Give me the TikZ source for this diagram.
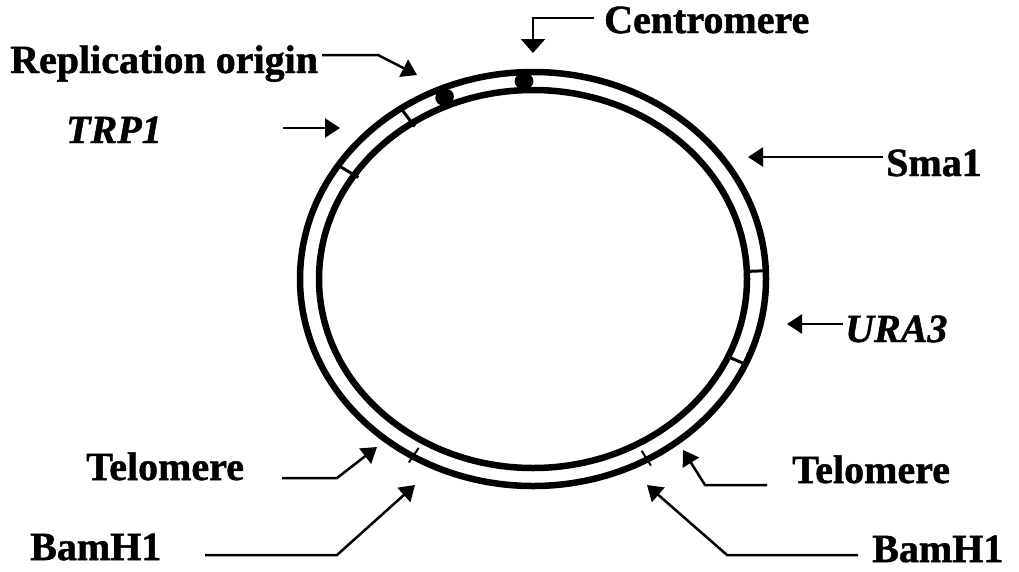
\documentclass[tikz,border=0pt]{standalone}
\usepackage{fontspec}
\setmainfont{Liberation Serif}[FakeBold=1.2]
\usetikzlibrary{arrows.meta,calc}
\begin{document}
\begin{tikzpicture}[x=1pt,y=-1pt,
  ring/.style={line width=6.5pt},
  tickmark/.style={line width=3pt},
  thintick/.style={line width=2pt},
  blob/.style={line width=15pt,line cap=round},
  arr/.style={line width=2.5pt,-{Triangle[length=15pt,width=19pt]}},
  arrc/.style={line width=2.5pt,-{Triangle[length=14pt,width=24pt]}},
  lab/.style={font=\fontsize{40}{42}\selectfont\bfseries,inner sep=0pt,anchor=base west},
  labi/.style={font=\fontsize{40}{42}\selectfont\bfseries\itshape,inner sep=0pt,anchor=base west}]
\useasboundingbox (0,0) rectangle (1019,571);
\coordinate (c) at (533,279);
% ring
\draw[ring] (c) ellipse [x radius=233pt, y radius=207pt];
\draw[ring] (c) ellipse [x radius=214pt, y radius=189pt];
% blobs (replication origin, centromere)
\draw[blob] ([shift={(c)}]112.8:223.5pt and 198pt) arc[start angle=112.8, end angle=113.8, x radius=223.5pt, y radius=198pt];
\draw[blob] ([shift={(c)}]91.8:223.5pt and 198pt) arc[start angle=91.8, end angle=92.8, x radius=223.5pt, y radius=198pt];
% TRP1 ticks
\draw[tickmark] ([shift={(c)}]124.5:209pt and 185pt) -- ([shift={(c)}]124.5:233pt and 207pt);
\draw[tickmark] ([shift={(c)}]146.7:209pt and 185pt) -- ([shift={(c)}]146.7:233pt and 207pt);
% URA3 ticks
\draw[tickmark] ([shift={(c)}]2.3:214pt and 189pt) -- ([shift={(c)}]2.3:233pt and 207pt);
\draw[tickmark] ([shift={(c)}]-24.3:214pt and 189pt) -- ([shift={(c)}]-24.3:233pt and 207pt);
% BamH1 ticks
\draw[thintick] ([shift={(c)}]-121:222pt and 197pt) -- ([shift={(c)}]-121:241pt and 214pt);
\draw[thintick] ([shift={(c)}]-60.7:222pt and 197pt) -- ([shift={(c)}]-60.7:241pt and 214pt);
% labels
\node[lab]  (cen)  at (604,33)  {Centromere};
\node[lab]  (rep)  at (10,73)   {Replication origin};
\node[labi] (trp)  at (66,143)  {TRP1};
\node[lab]  (sma)  at (886,176) {Sma1};
\node[labi] (ura)  at (845,342) {URA3};
\node[lab]  (telL) at (86,480)  {Telomere};
\node[lab]  (bamL) at (30,560)  {BamH1};
\node[lab]  (telR) at (792,483) {Telomere};
\node[lab]  (bamR) at (872,562) {BamH1};
% arrow coordinates
\coordinate (cenTip) at (533,53);
\coordinate (repBend) at (378,55);
\coordinate (repTip) at (417,75);
\coordinate (trpS) at (283,128);
\coordinate (trpTip) at (340,128);
\coordinate (smaS) at (883,157);
\coordinate (smaTip) at (748,157);
\coordinate (uraS) at (843,324);
\coordinate (uraTip) at (787,324);
\coordinate (telLS) at (282,478);
\coordinate (telLBend) at (337,478);
\coordinate (telLTip) at (377,447);
\coordinate (bamLS) at (205,555);
\coordinate (bamLBend) at (337,555);
\coordinate (bamLTip) at (415,485);
\coordinate (telRS) at (767,485);
\coordinate (telRBend) at (705,485);
\coordinate (telRTip) at (683,450);
\coordinate (bamRS) at (858,555);
\coordinate (bamRBend) at (727,555);
\coordinate (bamRTip) at (647,485);
% arrows
\draw[arrc] ([shift={(-10,-15)}]cen.base west) -| (cenTip);
\draw[arr] ([shift={(4,-18)}]rep.base east) -- (repBend) -- (repTip);
\draw[arr] (trpS) -- (trpTip);
\draw[arr] (smaS) -- (smaTip);
\draw[arr] (uraS) -- (uraTip);
\draw[arr] (telLS) -- (telLBend) -- (telLTip);
\draw[arr] (bamLS) -- (bamLBend) -- (bamLTip);
\draw[arr] (telRS) -- (telRBend) -- (telRTip);
\draw[arr] (bamRS) -- (bamRBend) -- (bamRTip);
\end{tikzpicture}
\end{document}
